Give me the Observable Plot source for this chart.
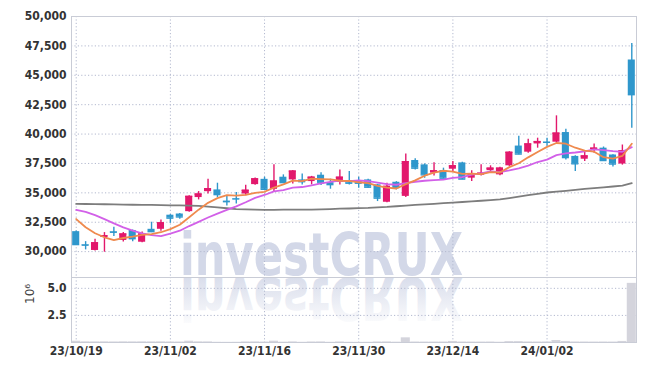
<!DOCTYPE html>
<html><head><meta charset="utf-8">
<script src="https://cdn.jsdelivr.net/npm/d3@7"></script>
<script src="https://cdn.jsdelivr.net/npm/@observablehq/plot@0.6"></script>
<style>
body{margin:0;background:#fff;}
#chart svg{display:block;}
</style></head><body><div id="chart"></div>
<script>
const dates = [
"2023-10-19","2023-10-20","2023-10-23","2023-10-24","2023-10-25","2023-10-26","2023-10-27","2023-10-30","2023-10-31",
"2023-11-01","2023-11-02","2023-11-03","2023-11-06","2023-11-07","2023-11-08","2023-11-09","2023-11-10","2023-11-13","2023-11-14","2023-11-15","2023-11-16","2023-11-17","2023-11-20","2023-11-21","2023-11-22","2023-11-23","2023-11-24","2023-11-27","2023-11-28","2023-11-29","2023-11-30",
"2023-12-01","2023-12-04","2023-12-05","2023-12-06","2023-12-07","2023-12-08","2023-12-11","2023-12-12","2023-12-13","2023-12-14","2023-12-15","2023-12-18","2023-12-19","2023-12-20","2023-12-21","2023-12-22","2023-12-26","2023-12-27","2023-12-28",
"2024-01-02","2024-01-03","2024-01-04","2024-01-05","2024-01-08","2024-01-09","2024-01-10","2024-01-11","2024-01-12","2024-01-15"];
const open  = [31700,30600,30100,31200,31700,30950,31800,30800,31900,31900,33100,33200,33400,34600,35100,35250,34300,34520,34900,35700,36150,35300,36330,36100,36100,35960,36500,35870,35900,36040,35960,36100,35680,34200,35900,34700,37750,37380,36680,36890,37010,37550,36250,36500,36890,36530,37300,38980,38460,39160,39320,39310,40130,38100,37860,38660,38800,38220,37450,46300];
const high  = [31750,30850,31050,31620,32080,31620,31850,31680,32500,32700,33150,33250,34750,35110,36160,35820,34680,35020,35650,36270,36330,37400,36530,36900,36610,36400,36700,36160,36950,36810,36330,36150,35720,35820,35950,38300,37890,37460,37570,37100,37660,37600,36890,37380,37300,37180,38500,39810,39560,39650,39650,41550,40420,38150,38430,39160,38900,38250,39070,47700];
const low   = [30550,30150,30050,29950,31280,30830,30850,30750,31620,31730,32410,32760,33350,34400,34910,34600,33890,34060,34750,35650,35280,35080,35800,35750,35670,35680,35620,35310,35670,35670,35390,35400,34260,34150,35250,34600,36950,36240,36440,36200,36810,36120,35960,36440,36670,36450,37250,38250,38370,38800,38970,39220,37800,36810,37660,38370,37700,37190,37360,40500];
const close = [30600,30550,30750,31350,31650,31500,31100,31500,31700,32450,32850,32950,34700,34900,35350,34850,34250,34480,35220,36190,35300,36000,35870,36850,35950,36330,35850,35700,36330,35820,35820,35480,34550,35550,35450,37650,37100,36530,36870,36250,37300,36170,36610,36670,37100,37100,38450,38300,39160,39360,39300,40080,38000,37470,38140,38800,37750,37450,38570,43350];
const volume = [120000,60000,55000,60000,50000,60000,55000,60000,55000,60000,50000,45000,120000,60000,55000,20000,15000,20000,50000,55000,40000,120000,30000,55000,20000,50000,55000,20000,50000,20000,15000,20000,50000,55000,30000,430000,45000,40000,40000,45000,100000,45000,40000,40000,45000,25000,80000,80000,50000,45000,50000,180000,100000,50000,45000,40000,45000,40000,100000,5460000];
const ma5  = [32770,32070,31560,31220,30980,31160,31270,31420,31490,31650,31920,32290,32930,33570,34150,34550,34810,34770,34830,35000,35090,35440,35720,36040,35990,36200,36170,36140,36030,36010,35900,35830,35600,35440,35370,35740,36060,36460,36720,36880,36810,36620,36640,36600,36770,36730,37190,37520,38020,38470,38910,39240,39180,38840,38600,38500,38030,37920,38140,39180];
const ma10 = [33550,33380,33100,32760,32410,32070,31790,31560,31400,31315,31540,31780,32175,32530,32900,33235,33550,33848,34200,34574,34819,35124,35241,35436,35496,35644,35804,35926,36037,36000,36052,36000,35868,35738,35688,35820,35945,36028,36082,36125,36273,36342,36548,36660,36825,36770,36905,37082,37311,37622,37822,38213,38352,38432,38536,38706,38636,38551,38492,38891];
const ma60 = [34060,34050,34040,34030,34020,34000,33990,33980,33970,33960,33940,33930,33920,33890,33830,33760,33690,33620,33590,33570,33560,33560,33570,33570,33580,33580,33600,33620,33650,33670,33700,33720,33760,33800,33860,33920,33970,34020,34070,34120,34170,34220,34270,34330,34390,34450,34560,34680,34800,34920,35030,35100,35170,35250,35330,35400,35470,35540,35620,35820];
const priceTicks = [30000,32500,35000,37500,40000,42500,45000,47500,50000];
const volumeTicks = [2500000,5000000];
const dateTicks = dates.filter((d, i) => i % 10 === 0);

const UP = "#e2186c", DOWN = "#2f97cc";
const FONT = "'DejaVu Sans Condensed','Liberation Sans Narrow',sans-serif";
const rows = dates.map((d, i) => ({date: d, open: open[i], high: high[i], low: low[i], close: close[i],
  volume: volume[i], ma5: ma5[i], ma10: ma10[i], ma60: ma60[i], col: close[i] >= open[i] ? UP : DOWN}));

const xScale = {type: "band", domain: dates, paddingInner: 0.25, paddingOuter: 0.125, round: false, axis: null};
const grid = {stroke: "#b3b9cf", strokeOpacity: 1, strokeDasharray: "1.2,2.2", strokeWidth: 1};
const W = 645;

const main = Plot.plot({
  width: W, height: 277, marginTop: 16, marginBottom: 0, marginLeft: 71, marginRight: 9,
  style: {fontFamily: FONT, fontSize: "12px", fontWeight: "bold", color: "#333", background: "transparent", overflow: "hidden"},
  x: xScale,
  y: {domain: [27800, 50000], axis: null},
  color: {type: "identity"},
  marks: [
    Plot.gridY(priceTicks, grid),
    Plot.gridX(dateTicks, grid),
    Plot.frame({stroke: "#c9ccd6"}),
    Plot.axisY({ticks: priceTicks, label: null, tickSize: 0, tickPadding: 5, tickFormat: d3.format(","), fill: "#333"}),
    Plot.ruleX(rows, {x: "date", y1: "low", y2: "high", stroke: "col", strokeWidth: 1.4}),
    Plot.barY(rows, {x: "date", y1: "open", y2: "close", fill: "col"}),
    Plot.tickY(rows, {x: "date", y: "close", stroke: "col", strokeWidth: 1.4}),
    Plot.line(rows, {x: "date", y: "ma60", stroke: "#7d7d7d", strokeWidth: 1.8}),
    Plot.line(rows, {x: "date", y: "ma10", stroke: "#d260e8", strokeWidth: 1.8}),
    Plot.line(rows, {x: "date", y: "ma5", stroke: "#ef8a4e", strokeWidth: 1.8})
  ]
});

const vol = Plot.plot({
  width: W, height: 94, marginTop: 0, marginBottom: 29, marginLeft: 71, marginRight: 9,
  style: {fontFamily: FONT, fontSize: "12px", fontWeight: "bold", color: "#333", background: "transparent"},
  x: xScale,
  y: {domain: [0, 6000000], axis: null},
  marks: [
    Plot.gridY(volumeTicks, grid),
    Plot.gridX(dateTicks, grid),
    Plot.barY(rows, {x: "date", y: "volume", fill: "#d4d4dc", insetLeft: -1, insetRight: -1}),
    Plot.frame({stroke: "#c9ccd6"}),
    Plot.axisY({ticks: volumeTicks, label: null, tickSize: 0, tickPadding: 5, tickFormat: d => (d / 1e6).toFixed(1), fill: "#333"}),
    Plot.axisX({ticks: dateTicks, label: null, tickSize: 0, tickPadding: 4, tickFormat: d => d.slice(2).replace(/-/g, "/"), fill: "#333"}),
    Plot.text(["10⁶"], {frameAnchor: "left", dx: -41, dy: -6, rotate: -90, fontWeight: "normal", fontFamily: "'DejaVu Sans',sans-serif", fontSize: 12, fill: "#444"})
  ]
});

// watermark
const WM = "#d3d8e8";
const sm = d3.select(main);
sm.insert("text", "g")
  .attr("x", 180).attr("y", 275).attr("text-anchor", "start")
  .attr("font-family", "'DejaVu Sans Condensed',sans-serif").attr("font-weight", "bold").attr("font-size", 59)
  .attr("textLength", 283).attr("lengthAdjust", "spacingAndGlyphs")
  .attr("fill", WM).text("investCRUX");

const sv = d3.select(vol);
const defs = sv.insert("defs", "g");
const lg = defs.append("linearGradient").attr("id", "wmfade").attr("gradientUnits", "userSpaceOnUse")
  .attr("x1", 0).attr("y1", -1).attr("x2", 0).attr("y2", -46);
lg.append("stop").attr("offset", 0).attr("stop-color", WM).attr("stop-opacity", 0.85);
lg.append("stop").attr("offset", 1).attr("stop-color", WM).attr("stop-opacity", 0.1);
sv.insert("text", "g")
  .attr("transform", "scale(1,-1)").attr("text-anchor", "start")
  .attr("x", 180).attr("y", -1)
  .attr("font-family", "'DejaVu Sans Condensed',sans-serif").attr("font-weight", "bold").attr("font-size", 59)
  .attr("textLength", 283).attr("lengthAdjust", "spacingAndGlyphs")
  .attr("fill", "url(#wmfade)").text("investCRUX");

const c = document.getElementById("chart");
c.append(main);
c.append(vol);
</script>
</body></html>
